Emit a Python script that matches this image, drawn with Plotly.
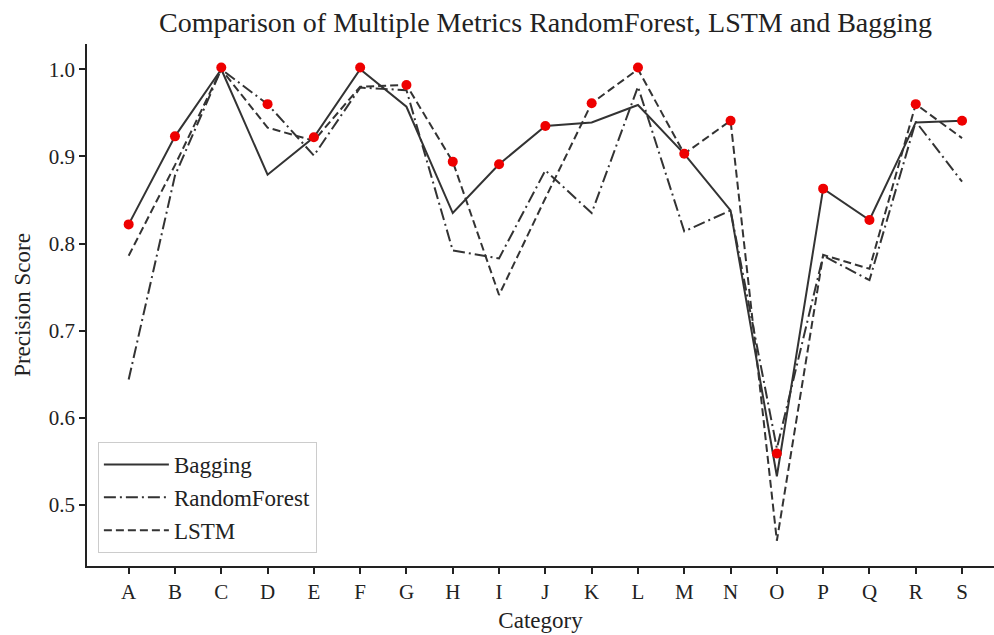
import plotly.graph_objects as go

categories = list("ABCDEFGHIJKLMNOPQRS")
bagging = [0.822, 0.923, 1.000, 0.879, 0.922, 1.000, 0.957, 0.835, 0.891, 0.935,
           0.939, 0.959, 0.903, 0.838, 0.533, 0.863, 0.827, 0.939, 0.941]
random_forest = [0.644, 0.878, 1.000, 0.960, 0.901, 0.979, 0.976, 0.792, 0.783, 0.884,
                 0.835, 0.980, 0.814, 0.838, 0.565, 0.786, 0.758, 0.940, 0.871]
lstm = [0.786, 0.890, 1.000, 0.933, 0.918, 0.980, 0.982, 0.894, 0.741, 0.852,
        0.961, 1.000, 0.903, 0.941, 0.459, 0.787, 0.771, 0.960, 0.921]
best = [0.822, 0.923, 1.002, 0.960, 0.922, 1.002, 0.982, 0.894, 0.891, 0.935,
        0.961, 1.002, 0.903, 0.941, 0.559, 0.863, 0.827, 0.960, 0.941]

font = "Liberation Serif, Times New Roman, serif"
line_color = "#333333"

fig = go.Figure()
fig.add_trace(go.Scatter(x=categories, y=bagging, mode="lines", name="Bagging",
                         line=dict(color=line_color, width=2)))
fig.add_trace(go.Scatter(x=categories, y=random_forest, mode="lines", name="RandomForest",
                         line=dict(color=line_color, width=2, dash="12px,4px,2px,4px")))
fig.add_trace(go.Scatter(x=categories, y=lstm, mode="lines", name="LSTM",
                         line=dict(color=line_color, width=2, dash="8px,4px")))
fig.add_trace(go.Scatter(x=categories, y=best, mode="markers", showlegend=False,
                         marker=dict(color="#ee0000", size=10)))

fig.update_layout(
    width=994, height=635,
    margin=dict(l=87, r=0, t=44, b=69),
    paper_bgcolor="white", plot_bgcolor="white",
    font=dict(family=font, size=21, color="#222222"),
    title=dict(text="Comparison of Multiple Metrics RandomForest, LSTM and Bagging",
               x=(87 + 1004) / 2 / 994, xanchor="center", y=0.965, yanchor="middle",
               font=dict(family=font, size=28, color="#222222")),
    xaxis=dict(title=dict(text="Category", font=dict(size=23), standoff=9),
               range=[-0.9, 18.69], showgrid=False, zeroline=False,
               showline=True, linecolor="#222222", linewidth=1.5,
               ticks="outside", ticklen=6, tickwidth=1.5, tickcolor="#222222",
               tickfont=dict(size=21)),
    yaxis=dict(title=dict(text="Precision Score", font=dict(size=23), standoff=12),
               range=[0.43, 1.029], showgrid=False, zeroline=False,
               showline=True, linecolor="#222222", linewidth=1.5,
               ticks="outside", ticklen=6, tickwidth=1.5, tickcolor="#222222",
               tickvals=[0.5, 0.6, 0.7, 0.8, 0.9, 1.0], tickformat=".1f",
               tickfont=dict(size=21)),
    legend=dict(x=0.012, y=0.025, xanchor="left", yanchor="bottom",
                bgcolor="rgba(255,255,255,0.8)", bordercolor="#cccccc", borderwidth=1,
                font=dict(size=23, family=font), itemwidth=65),
)

fig.write_html("out.html")
